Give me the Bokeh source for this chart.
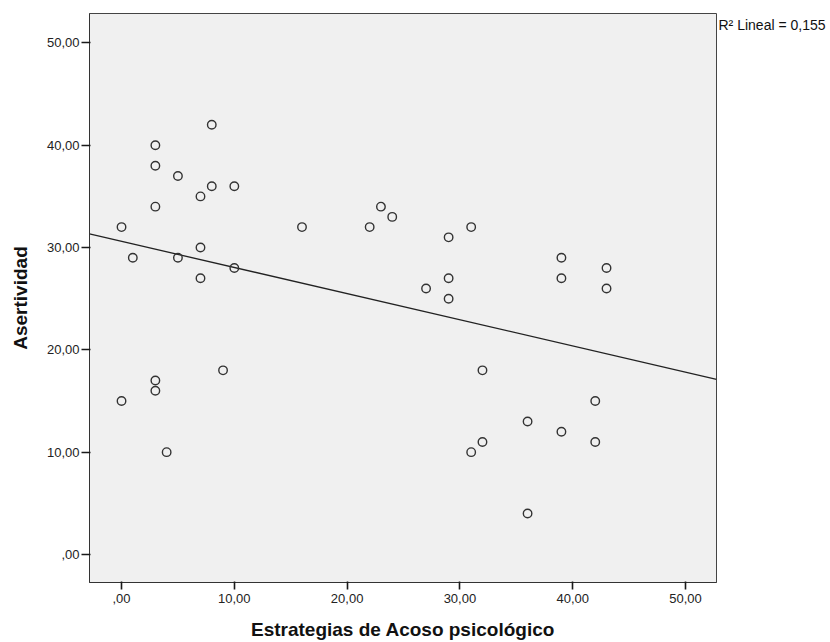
import numpy as np
from bokeh.plotting import figure
from bokeh.models import Range1d, FixedTicker, LinearAxis, ColumnDataSource
from bokeh.embed import file_html
from bokeh.resources import INLINE

# Data
acoso = [8, 3, 3, 5, 8, 10, 7, 3, 0, 1, 5, 7, 10, 7,
         9, 3, 3, 0, 4,
         23, 24, 22, 31, 29, 29, 27, 29, 32, 16,
         42, 36, 39, 32, 42, 31, 36,
         39, 39, 43, 43]
asertividad = [42, 40, 38, 37, 36, 36, 35, 34, 32, 29, 29, 30, 28, 27,
               18, 17, 16, 15, 10,
               34, 33, 32, 32, 31, 27, 26, 25, 18, 32,
               15, 13, 12, 11, 11, 10, 4,
               29, 27, 28, 26]

tick_values = [0, 10, 20, 30, 40, 50]
tick_labels = [",00", "10,00", "20,00", "30,00", "40,00", "50,00"]
x_title = "Estrategias de Acoso psicológico"
y_title = "Asertividad"
r2_text = "R² Lineal = 0,155"

X0, X1 = -2.84, 52.75
Y0, Y1 = -2.74, 52.88

slope, intercept = np.polyfit(np.array(acoso, float), np.array(asertividad, float), 1)
fit_x = [X0, X1]
fit_y = [intercept + slope * X0, intercept + slope * X1]

p = figure(width=830, height=642, output_backend="svg", toolbar_location=None,
           x_range=Range1d(X0, X1), y_range=Range1d(Y0, Y1),
           min_border_left=89, min_border_right=114, min_border_top=13, min_border_bottom=60)

p.background_fill_color = "#f0f0f0"
p.border_fill_color = "white"
p.outline_line_color = "#444444"
p.outline_line_width = 1
p.grid.visible = False

labels_map = {v: t for v, t in zip(tick_values, tick_labels)}
for ax in (p.xaxis[0], p.yaxis[0]):
    ax.ticker = FixedTicker(ticks=tick_values)
    ax.major_label_overrides = labels_map
    ax.minor_tick_line_color = None
    ax.major_tick_in = 1
    ax.major_tick_line_color = "#1a1a1a"
    ax.major_tick_line_width = 1.6
    ax.axis_line_color = "#333333"
    ax.major_label_text_font = "Liberation Sans"
    ax.major_label_text_font_size = "13px"
    ax.major_label_text_color = "#222222"
    ax.axis_label_text_font = "Liberation Sans"
    ax.axis_label_text_font_style = "bold"
    ax.axis_label_text_font_size = "19px"
    ax.axis_label_text_color = "#111111"

p.xaxis[0].axis_label = x_title
p.yaxis[0].axis_label = y_title
p.xaxis[0].major_tick_out = 7
p.yaxis[0].major_tick_out = 8
p.xaxis[0].major_label_standoff = 4
p.yaxis[0].major_label_standoff = 2
p.xaxis[0].axis_label_standoff = 13
p.yaxis[0].axis_label_standoff = 13

# R² annotation placed just right of the frame, near its top (as in SPSS output)
r2_pos = 51.75
r2_axis = LinearAxis(ticker=FixedTicker(ticks=[r2_pos]),
                     major_label_overrides={r2_pos: r2_text})
r2_axis.axis_line_color = None
r2_axis.major_tick_line_color = None
r2_axis.minor_tick_line_color = None
r2_axis.major_tick_in = 0
r2_axis.major_tick_out = 0
r2_axis.major_label_standoff = 2
r2_axis.major_label_text_font = "Liberation Sans"
r2_axis.major_label_text_font_size = "14px"
r2_axis.major_label_text_color = "#111111"
p.add_layout(r2_axis, "right")

p.line(fit_x, fit_y, line_color="#222222", line_width=1.3)

src = ColumnDataSource(dict(x=acoso, y=asertividad))
p.scatter("x", "y", source=src, marker="circle", size=8.5, fill_color=None,
          line_color="#333333", line_width=1.4)

open("out.html", "w").write(file_html(p, INLINE))
